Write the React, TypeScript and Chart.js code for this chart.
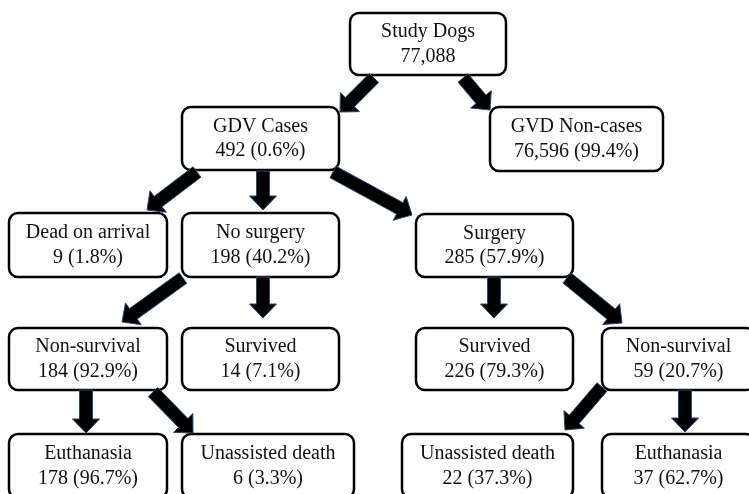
import React, { useEffect, useRef } from "react";
import { Chart, registerables } from "chart.js";

Chart.register(...registerables);

// ---- data ----
const nodeNames = [
  "Study Dogs",
  "GDV Cases",
  "GVD Non-cases",
  "Dead on arrival",
  "No surgery",
  "Surgery",
  "Non-survival",
  "Survived",
  "Survived",
  "Non-survival",
  "Euthanasia",
  "Unassisted death",
  "Unassisted death",
  "Euthanasia",
];
const nodeCounts = [77088, 492, 76596, 9, 198, 285, 184, 14, 226, 59, 178, 6, 22, 37];
const nodePercents: (number | null)[] = [null, 0.6, 99.4, 1.8, 40.2, 57.9, 92.9, 7.1, 79.3, 20.7, 96.7, 3.3, 37.3, 62.7];

// edges (parent -> child)
const edgeFrom = [0, 0, 1, 1, 1, 4, 4, 6, 6, 5, 5, 9, 9];
const edgeTo = [1, 2, 3, 4, 5, 6, 7, 10, 11, 8, 9, 12, 13];

// ---- layout (data space: x 0..749, y 0..494 downward) ----
const nodeLeft = [350, 182, 490, 9, 182, 416, 9, 182, 416, 602, 9, 182, 402, 602];
const nodeTop = [13, 107, 107, 213, 213, 214, 328, 328, 328, 328, 434, 434, 434, 434];
const nodeRight = [506, 339, 663, 167, 339, 573, 167, 339, 573, 755, 167, 354, 573, 755];
const nodeBottom = [75, 170, 171, 277, 277, 277, 390, 390, 390, 390, 498, 498, 498, 498];

const arrowStartX = [374, 463, 197, 263, 333, 183, 263, 86, 153, 494, 567, 602, 685];
const arrowStartY = [78, 78, 172, 171, 172, 278, 277, 390, 392, 277, 278, 387, 390];
const arrowTipX = [340, 490, 147, 263, 412, 122, 263, 86, 193, 494, 622, 565, 685];
const arrowTipY = [112, 110, 210, 210, 215, 322, 318, 433, 433, 318, 323, 430, 432];

const fmt = (n: number) => n.toLocaleString("en-US");

const flowPlugin = {
  id: "flow",
  afterDatasetsDraw(chart: any) {
    const ctx: CanvasRenderingContext2D = chart.ctx;
    const xs = chart.scales.x;
    const ys = chart.scales.y;
    const px = (v: number) => xs.getPixelForValue(v);
    const py = (v: number) => ys.getPixelForValue(v);

    ctx.save();
    // boxes
    for (let i = 0; i < nodeNames.length; i++) {
      const l = px(nodeLeft[i]);
      const r = px(nodeRight[i]);
      const t = py(nodeTop[i]);
      const b = py(nodeBottom[i]);
      ctx.beginPath();
      (ctx as any).roundRect(l, t, r - l, b - t, 9);
      ctx.fillStyle = "#ffffff";
      ctx.fill();
      ctx.lineWidth = 2.5;
      ctx.strokeStyle = "#000000";
      ctx.stroke();

      const cx = (l + r) / 2;
      const cy = (t + b) / 2;
      ctx.fillStyle = "#111111";
      ctx.font = "20px 'Liberation Serif', 'Times New Roman', serif";
      ctx.textAlign = "center";
      ctx.textBaseline = "middle";
      const line2 =
        nodePercents[i] === null
          ? fmt(nodeCounts[i])
          : `${fmt(nodeCounts[i])} (${nodePercents[i]!.toFixed(1)}%)`;
      ctx.fillText(nodeNames[i], cx, cy - 12);
      ctx.fillText(line2, cx, cy + 12.5);
    }

    // arrows
    const shaftHalf = 6.5;
    const headHalf = 13.5;
    const headLen = 14;
    for (let k = 0; k < edgeFrom.length; k++) {
      const sx = px(arrowStartX[k]);
      const sy = py(arrowStartY[k]);
      const tx = px(arrowTipX[k]);
      const ty = py(arrowTipY[k]);
      const dx = tx - sx;
      const dy = ty - sy;
      const len = Math.hypot(dx, dy);
      const ux = dx / len;
      const uy = dy / len;
      const nx = -uy;
      const ny = ux;
      const bx = tx - ux * headLen;
      const by = ty - uy * headLen;
      ctx.beginPath();
      ctx.moveTo(sx + nx * shaftHalf, sy + ny * shaftHalf);
      ctx.lineTo(bx + nx * shaftHalf, by + ny * shaftHalf);
      ctx.lineTo(bx + nx * headHalf, by + ny * headHalf);
      ctx.lineTo(tx, ty);
      ctx.lineTo(bx - nx * headHalf, by - ny * headHalf);
      ctx.lineTo(bx - nx * shaftHalf, by - ny * shaftHalf);
      ctx.lineTo(sx - nx * shaftHalf, sy - ny * shaftHalf);
      ctx.closePath();
      ctx.fillStyle = "#000000";
      ctx.fill();
      ctx.lineWidth = 1;
      ctx.strokeStyle = "#2a4a70";
      ctx.stroke();
    }
    ctx.restore();
  },
};

export default function App() {
  const ref = useRef<HTMLCanvasElement | null>(null);

  useEffect(() => {
    if (!ref.current) return;
    const chart = new Chart(ref.current, {
      type: "scatter",
      data: {
        datasets: [
          {
            label: "nodes",
            data: nodeNames.map((_, i) => ({
              x: (nodeLeft[i] + nodeRight[i]) / 2,
              y: (nodeTop[i] + nodeBottom[i]) / 2,
            })),
            pointRadius: 0,
            pointHoverRadius: 0,
          },
        ],
      },
      options: {
        animation: false,
        responsive: false,
        maintainAspectRatio: false,
        layout: { padding: 0 },
        plugins: {
          legend: { display: false },
          tooltip: { enabled: false },
        },
        scales: {
          x: { type: "linear", min: 0, max: 749, display: false },
          y: { type: "linear", min: 0, max: 494, reverse: true, display: false },
        },
      },
      plugins: [flowPlugin],
    });
    return () => chart.destroy();
  }, []);

  return (
    <div style={{ position: "fixed", left: 0, top: 0, width: 749, height: 494, background: "#ffffff" }}>
      <canvas ref={ref} width={749} height={494} style={{ display: "block" }} />
    </div>
  );
}
